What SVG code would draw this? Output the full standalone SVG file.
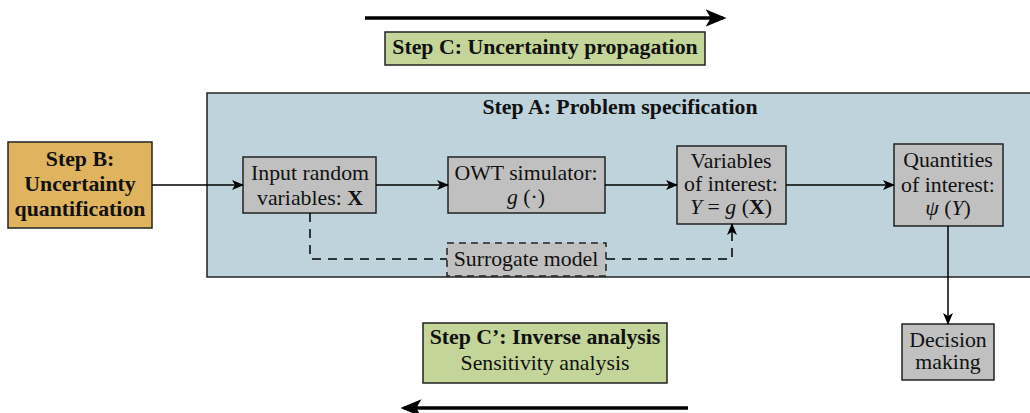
<svg xmlns="http://www.w3.org/2000/svg" width="1030" height="413" viewBox="0 0 1030 413">
<style>
text{font-family:"Liberation Serif","Times New Roman",serif;font-size:21.8px;fill:#111;text-anchor:middle}
.b{font-weight:bold}
.i{font-style:italic}
.box{stroke:#222;stroke-width:1.5}
.grey{fill:#c0c0c0}
.conn{fill:none;stroke:#000;stroke-width:1.5}
.dash{fill:none;stroke:#000;stroke-width:1.5;stroke-dasharray:9 7}
.thick{fill:none;stroke:#000;stroke-width:3.5}
</style>
<defs>
<marker id="ah" viewBox="0 0 12 10" refX="11" refY="5" markerWidth="12" markerHeight="10" markerUnits="userSpaceOnUse" orient="auto">
<path d="M0,0 L12,5 L0,10 L3,5 Z" fill="#000"/>
</marker>
<marker id="ahb" viewBox="0 0 12 10" refX="10" refY="5" markerWidth="6" markerHeight="5" orient="auto">
<path d="M0,0 L12,5 L0,10 L3,5 Z" fill="#000"/>
</marker>
</defs>
<g id="stepA">
<rect x="207" y="93" width="830" height="184" fill="#bfd3dc" class="box"/>
<text x="620" y="114" class="b">Step A: Problem specification</text>
</g>
<g id="stepB">
<rect x="8" y="142" width="144" height="86" fill="#e0b45e" class="box"/>
<text x="80" y="166" class="b">Step B:</text>
<text x="80" y="191" class="b">Uncertainty</text>
<text x="80" y="216" class="b">quantification</text>
</g>
<g id="stepC">
<rect x="385" y="32" width="320" height="33" fill="#c4d59a" class="box"/>
<text x="545" y="54" class="b">Step C: Uncertainty propagation</text>
</g>
<g id="stepCp">
<rect x="423" y="323" width="244" height="60" fill="#c4d59a" class="box"/>
<text x="545" y="344" class="b">Step C’: Inverse analysis</text>
<text x="545" y="370">Sensitivity analysis</text>
</g>
<g id="input">
<rect x="243" y="157" width="133" height="56" class="box grey"/>
<text x="310" y="180">Input random</text>
<text x="310" y="205">variables: <tspan class="b">X</tspan></text>
</g>
<g id="owt">
<rect x="448" y="157" width="157" height="56" class="box grey"/>
<text x="526" y="180">OWT simulator:</text>
<text x="526" y="204"><tspan class="i">g</tspan> (·)</text>
</g>
<g id="voi">
<rect x="677" y="146" width="109" height="78" class="box grey"/>
<text x="731" y="168">Variables</text>
<text x="731" y="191">of interest:</text>
<text x="731" y="214"><tspan class="i">Y</tspan> = <tspan class="i">g</tspan> (<tspan class="b">X</tspan>)</text>
</g>
<g id="qoi">
<rect x="894" y="144" width="109" height="82" class="box grey"/>
<text x="948" y="167">Quantities</text>
<text x="948" y="192">of interest:</text>
<text x="948" y="215"><tspan class="i">ψ</tspan> (<tspan class="i">Y</tspan>)</text>
</g>
<g id="decision">
<rect x="902" y="324" width="92" height="56" class="box grey"/>
<text x="948" y="347">Decision</text>
<text x="948" y="369">making</text>
</g>
<g id="connectors">
<path d="M152,185 H243" class="conn" marker-end="url(#ah)"/>
<path d="M376,185 H448" class="conn" marker-end="url(#ah)"/>
<path d="M605,185 H677" class="conn" marker-end="url(#ah)"/>
<path d="M786,185 H894" class="conn" marker-end="url(#ah)"/>
<path d="M948,226 V324" class="conn" marker-end="url(#ah)"/>
<path d="M310,213 V259 H447" class="dash"/>
<path d="M606,259 H732 V224" class="dash" marker-end="url(#ah)"/>
<path d="M365,18 H723" class="thick" marker-end="url(#ahb)"/>
<path d="M688,408 H404" class="thick" marker-end="url(#ahb)"/>
</g>
<g id="surrogate">
<rect x="447" y="243" width="159" height="33" class="box grey" stroke="#000" stroke-dasharray="7 5"/>
<text x="526" y="266">Surrogate model</text>
</g>
</svg>
